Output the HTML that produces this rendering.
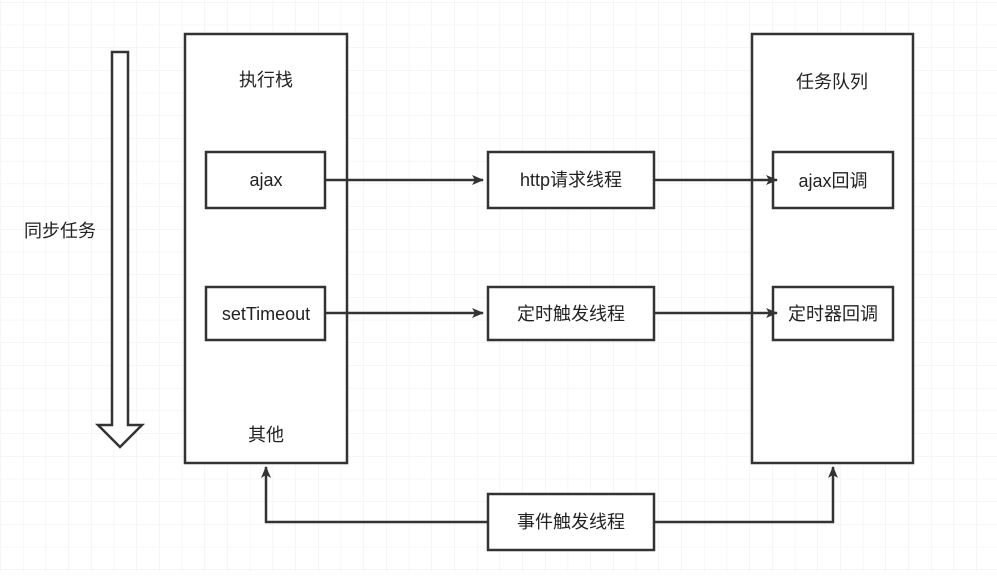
<!DOCTYPE html>
<html><head><meta charset="utf-8"><style>
body{margin:0;width:997px;height:572px;overflow:hidden;background:#fff;}
svg text{font-family:"Liberation Sans","Noto Sans CJK SC",sans-serif;font-size:18px;fill:#222;text-anchor:middle;dominant-baseline:central;}
</style></head><body>
<svg width="997" height="572" xmlns="http://www.w3.org/2000/svg">
<defs>
<pattern id="g" width="22.7" height="22.7" patternUnits="userSpaceOnUse" x="0.7" y="2.5">
<path d="M22.7 0V22.7M0 22.7H22.7" stroke="#ececec" stroke-width="1" fill="none"/>
</pattern>
<marker id="a" markerWidth="12" markerHeight="10" refX="11" refY="5" orient="auto" markerUnits="userSpaceOnUse" viewBox="0 0 12 10">
<path d="M0 0L12 5L0 10L3 5Z" fill="#333"/>
</marker>
</defs>
<rect width="997" height="572" fill="url(#g)"/>
<g stroke="#333" stroke-width="2.5" fill="#fff">
<path d="M112 52H128V425H142L120 447L98 425H112Z"/>
<rect x="185" y="34" width="162" height="429"/>
<rect x="752" y="34" width="161" height="429"/>
<rect x="206" y="152" width="119" height="56"/>
<rect x="206" y="287" width="119" height="53"/>
<rect x="488" y="152" width="166" height="56"/>
<rect x="488" y="287" width="166" height="53"/>
<rect x="773" y="152" width="120" height="56"/>
<rect x="773" y="287" width="120" height="53"/>
<rect x="488" y="494" width="166" height="56"/>
</g>
<g stroke="#333" stroke-width="2.5" fill="none">
<path d="M325 180H483" marker-end="url(#a)"/>
<path d="M654 180H777" marker-end="url(#a)"/>
<path d="M325 313H483" marker-end="url(#a)"/>
<path d="M654 313H777" marker-end="url(#a)"/>
<path d="M488 522H266V467" marker-end="url(#a)"/>
<path d="M654 522H833V467" marker-end="url(#a)"/>
</g>
<text x="266" y="80">执行栈</text>
<text x="832" y="82">任务队列</text>
<text x="60" y="231">同步任务</text>
<text x="266" y="180">ajax</text>
<text x="266" y="314">setTimeout</text>
<text x="266" y="435">其他</text>
<text x="571" y="180">http请求线程</text>
<text x="571" y="314">定时触发线程</text>
<text x="833" y="181">ajax回调</text>
<text x="833" y="314">定时器回调</text>
<text x="571" y="522">事件触发线程</text>
</svg>
</body></html>
